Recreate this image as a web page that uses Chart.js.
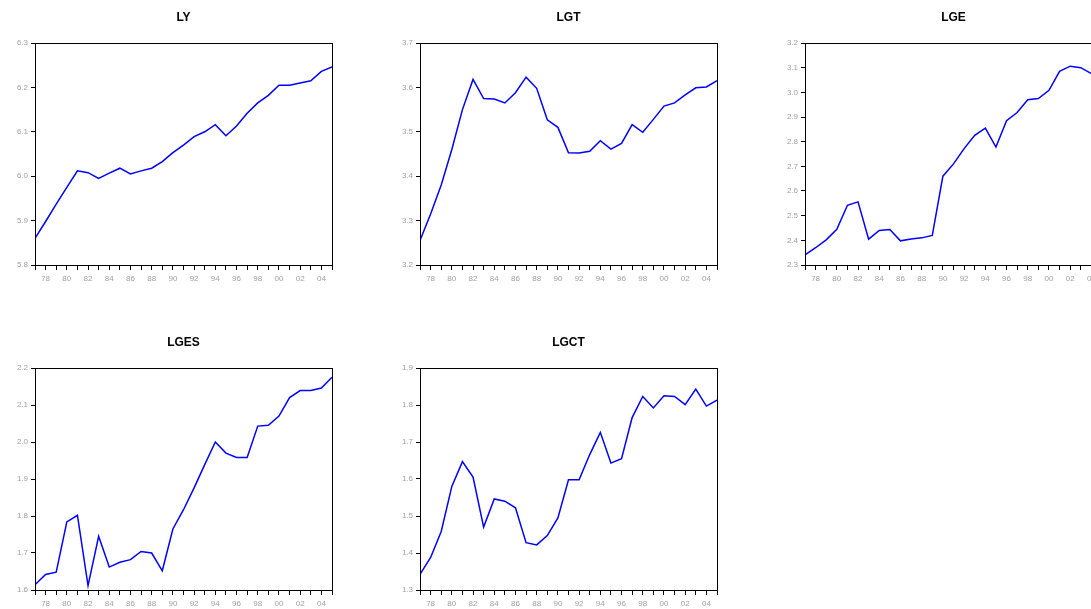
<!DOCTYPE html>
<html>
<head>
<meta charset="utf-8">
<script src="https://cdn.jsdelivr.net/npm/chart.js@4/dist/chart.umd.min.js"></script>
<style>
  html, body { margin: 0; padding: 0; background: #fff; overflow: hidden; }
  body { width: 1091px; height: 609px; position: relative; }
  canvas { position: absolute; }
</style>
</head>
<body>
<canvas id="c1" width="340" height="289" style="left:0px;top:0px"></canvas>
<canvas id="c2" width="340" height="289" style="left:385px;top:0px"></canvas>
<canvas id="c3" width="340" height="289" style="left:770px;top:0px"></canvas>
<canvas id="c4" width="340" height="289" style="left:0px;top:325px"></canvas>
<canvas id="c5" width="340" height="289" style="left:385px;top:325px"></canvas>
<script>
// years 1977 - 2005
const years = [1977, 1978, 1979, 1980, 1981, 1982, 1983, 1984, 1985, 1986,
  1987, 1988, 1989, 1990, 1991, 1992, 1993, 1994, 1995, 1996,
  1997, 1998, 1999, 2000, 2001, 2002, 2003, 2004, 2005];

const ly = [5.860, 5.898, 5.937, 5.975, 6.012, 6.008, 5.995, 6.007, 6.018, 6.005,
  6.012, 6.018, 6.033, 6.053, 6.070, 6.089, 6.100, 6.116, 6.091, 6.113,
  6.142, 6.165, 6.182, 6.205, 6.205, 6.210, 6.215, 6.236, 6.246];

const lgt = [3.255, 3.315, 3.380, 3.460, 3.550, 3.618, 3.575, 3.574, 3.565, 3.588,
  3.623, 3.598, 3.527, 3.510, 3.453, 3.452, 3.456, 3.480, 3.461, 3.474,
  3.516, 3.499, 3.528, 3.558, 3.565, 3.583, 3.599, 3.601, 3.615];

const lge = [2.341, 2.370, 2.402, 2.445, 2.542, 2.556, 2.405, 2.440, 2.444, 2.398,
  2.405, 2.410, 2.420, 2.660, 2.710, 2.772, 2.826, 2.855, 2.778, 2.885,
  2.918, 2.970, 2.975, 3.008, 3.085, 3.106, 3.100, 3.076, 3.066];

const lges = [1.614, 1.642, 1.648, 1.784, 1.802, 1.612, 1.745, 1.662, 1.675, 1.682,
  1.704, 1.700, 1.652, 1.765, 1.817, 1.876, 1.939, 2.000, 1.970, 1.958,
  1.958, 2.043, 2.045, 2.070, 2.120, 2.139, 2.139, 2.146, 2.175];

const lgct = [1.342, 1.388, 1.458, 1.580, 1.647, 1.605, 1.470, 1.546, 1.540, 1.522,
  1.428, 1.422, 1.447, 1.495, 1.598, 1.598, 1.666, 1.726, 1.643, 1.655,
  1.766, 1.823, 1.792, 1.825, 1.823, 1.801, 1.843, 1.797, 1.813];

const panels = [
  { id: "c1", title: "LY", values: ly, min: 5.8, max: 6.3 },
  { id: "c2", title: "LGT", values: lgt, min: 3.2, max: 3.7 },
  { id: "c3", title: "LGE", values: lge, min: 2.3, max: 3.2 },
  { id: "c4", title: "LGES", values: lges, min: 1.6, max: 2.2 },
  { id: "c5", title: "LGCT", values: lgct, min: 1.3, max: 1.9 },
];

// black frame around the plot area + title centred over the plot (EViews style)
const frameBox = {
  id: "frameBox",
  afterDraw(chart, args, opts) {
    const a = chart.chartArea;
    const ctx = chart.ctx;
    ctx.save();
    ctx.strokeStyle = "#000";
    ctx.lineWidth = 1;
    ctx.strokeRect(Math.round(a.left) + 0.5, Math.round(a.top) + 0.5,
      Math.round(a.right - a.left), Math.round(a.bottom - a.top));
    ctx.fillStyle = "#000";
    ctx.font = "bold 12px 'Liberation Sans', Arial, sans-serif";
    ctx.textAlign = "center";
    ctx.textBaseline = "middle";
    ctx.fillText(opts.text, (a.left + a.right) / 2, 18);
    ctx.restore();
  }
};

const tickFont = { family: "Liberation Sans, Arial, sans-serif", size: 8 };

panels.forEach((p) => {
  new Chart(document.getElementById(p.id), {
    type: "line",
    data: {
      datasets: [{
        data: years.map((y, i) => ({ x: y, y: p.values[i] })),
        borderColor: "#0000ff",
        borderWidth: 1.5,
        pointRadius: 0,
        tension: 0,
        fill: false,
      }]
    },
    options: {
      responsive: false,
      animation: false,
      layout: { padding: { left: 0, right: 8, top: 43, bottom: 0 } },
      plugins: {
        legend: { display: false },
        tooltip: { enabled: false },
        title: { display: false },
        frameBox: { text: p.title },
      },
      scales: {
        x: {
          type: "linear",
          min: 1977,
          max: 2005,
          afterFit: (s) => { s.height = 24; },
          grid: { drawOnChartArea: false, tickLength: 5, color: "#000" },
          border: { display: false },
          ticks: {
            stepSize: 1,
            autoSkip: false,
            maxRotation: 0,
            padding: 4,
            color: "#a0a0a0",
            font: tickFont,
            callback: (v) => (v % 2 === 0 ? String(v % 100).padStart(2, "0") : ""),
          }
        },
        y: {
          min: p.min,
          max: p.max,
          afterFit: (s) => { s.width = 35; },
          grid: { drawOnChartArea: false, tickLength: 4, color: "#000" },
          border: { display: false },
          ticks: {
            stepSize: 0.1,
            padding: 3,
            color: "#a0a0a0",
            font: tickFont,
            callback: (v) => Number(v).toFixed(1),
          }
        }
      }
    },
    plugins: [frameBox]
  });
});
</script>
</body>
</html>
